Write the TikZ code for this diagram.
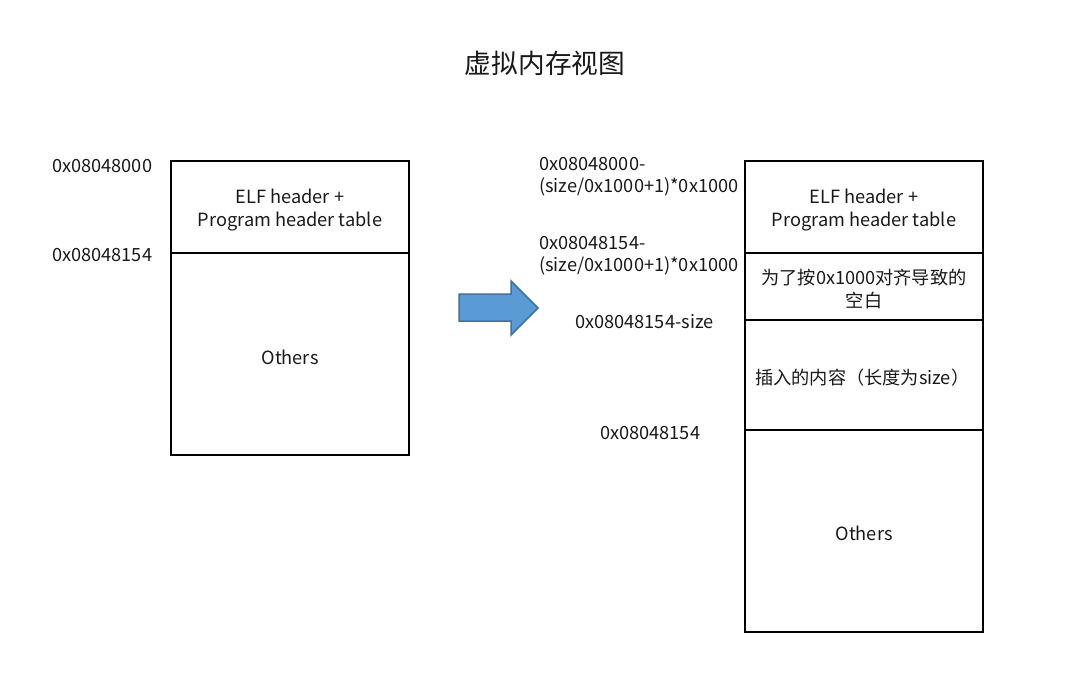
\documentclass[tikz,border=0pt]{standalone}
\usepackage{fontspec}
\setmainfont{Noto Sans CJK SC}
\begin{document}
\begin{tikzpicture}[x=1pt,y=-1pt,
  txt/.style={font=\fontsize{18.2}{22.2}\selectfont, inner sep=0pt, align=center, text=black!90},
  lab/.style={txt, anchor=west, align=left},
  cell/.style={draw=black, line width=2pt, minimum width=238pt, inner sep=0pt},
  blockarrow/.style={fill={rgb,255:red,91;green,155;blue,213}, draw={rgb,255:red,65;green,113;blue,156}, line width=1.5pt, line join=miter}
]
\useasboundingbox (0,0) rectangle (1082,687);
\fill[white] (0,0) rectangle (1082,687);

% title
\node[txt, font=\fontsize{26.67}{30}\selectfont] (title) at (545,63) {虚拟内存视图};

% left column
\node[cell, minimum height=92pt] (l1) at (290,207) {};
\node[cell, minimum height=202pt] (l2) at (290,354) {};
\node[txt] (l1t) at (290,210) {ELF header +\\Program header table};
\node[txt] (l2t) at (290,357) {Others};
\node[lab] (la) at (52,166) {0x08048000};
\node[lab] (lb) at (52,255) {0x08048154};

% arrow
\path[blockarrow] (459,294) -- (511,294) -- (511,281) -- (538,308) -- (511,335) -- (511,321) -- (459,321) -- cycle;

% right column
\node[cell, minimum height=92pt] (r1) at (864,207) {};
\node[cell, minimum height=67pt] (r2) at (864,286.5) {};
\node[cell, minimum height=110pt] (r3) at (864,375) {};
\node[cell, minimum height=202pt] (r4) at (864,531) {};
\node[txt] (r1t) at (864,210) {ELF header +\\Program header table};
\node[txt] (r2t) at (864,289) {为了按0x1000对齐导致的\\空白};
\node[lab] (r3t) at (755,378) {插入的内容（长度为size）};
\node[txt] (r4t) at (864,533) {Others};

\node[lab] (ra) at (539,177) {0x08048000-\\(size/0x1000+1)*0x1000};
\node[lab] (rb) at (539,256) {0x08048154-\\(size/0x1000+1)*0x1000};
\node[lab] (rc) at (575,322) {0x08048154-size};
\node[lab] (rd) at (600,433) {0x08048154};
\end{tikzpicture}
\end{document}
